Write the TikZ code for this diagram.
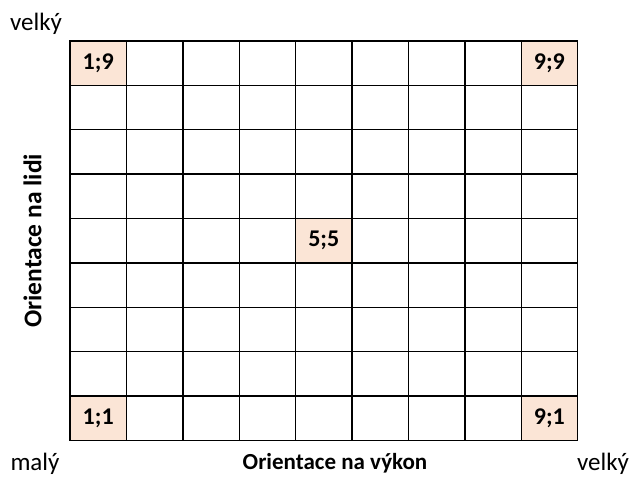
\documentclass[tikz,border=0pt]{standalone}
\usepackage{fontspec}
\setmainfont{Carlito}
\usepackage{xcolor}
\usetikzlibrary{positioning}
\definecolor{peach}{RGB}{251,229,214}

\begin{document}
\begin{tikzpicture}[x=1pt, y=-1pt,
  cell/.style={rectangle, minimum width=56.4pt, minimum height=44.4pt,
               inner sep=0pt, outer sep=0pt},
  gridline/.style={line width=1.4pt},
  hicell/.style={cell, draw, line width=1.4pt, fill=peach,
                 font=\bfseries\fontsize{24}{28}\selectfont},
  axislabel/.style={font=\bfseries\fontsize{23}{26}\selectfont},
  endlabel/.style={font=\fontsize{25}{28}\selectfont}
]
\useasboundingbox (0,0) rectangle (638,481);

% 9x9 grid, c<x><y>
\foreach \i in {1,...,9}
  \foreach \j in {1,...,9}
    \node[cell] (c\i\j) at ({70+(\i-0.5)*56.4},{41+(9.5-\j)*44.4}) {};
\draw[gridline, shift={(c19.north west)}] (0,0) grid[xstep=56.4pt, ystep=44.4pt] (507.6,399.6);

% marked cells
\foreach \i/\j in {1/9, 9/9, 5/5, 1/1, 9/1}
  \node[hicell] (h\i\j) at (c\i\j) {\i;\j};

\node[axislabel, below=9pt of c51.south east, xshift=-17pt] (xlab) {Orientace na výkon};
\node[axislabel, font=\bfseries\fontsize{25.5}{28}\selectfont, rotate=90, anchor=south]
  (ylab) at ([xshift=-25pt]c15.west) {Orientace na lidi};

\node[endlabel] (topbig) at (36,24) {velký};
\node[endlabel] (small) at (35,464) {malý};
\node[endlabel] (rightbig) at (603,464) {velký};
\end{tikzpicture}
\end{document}
